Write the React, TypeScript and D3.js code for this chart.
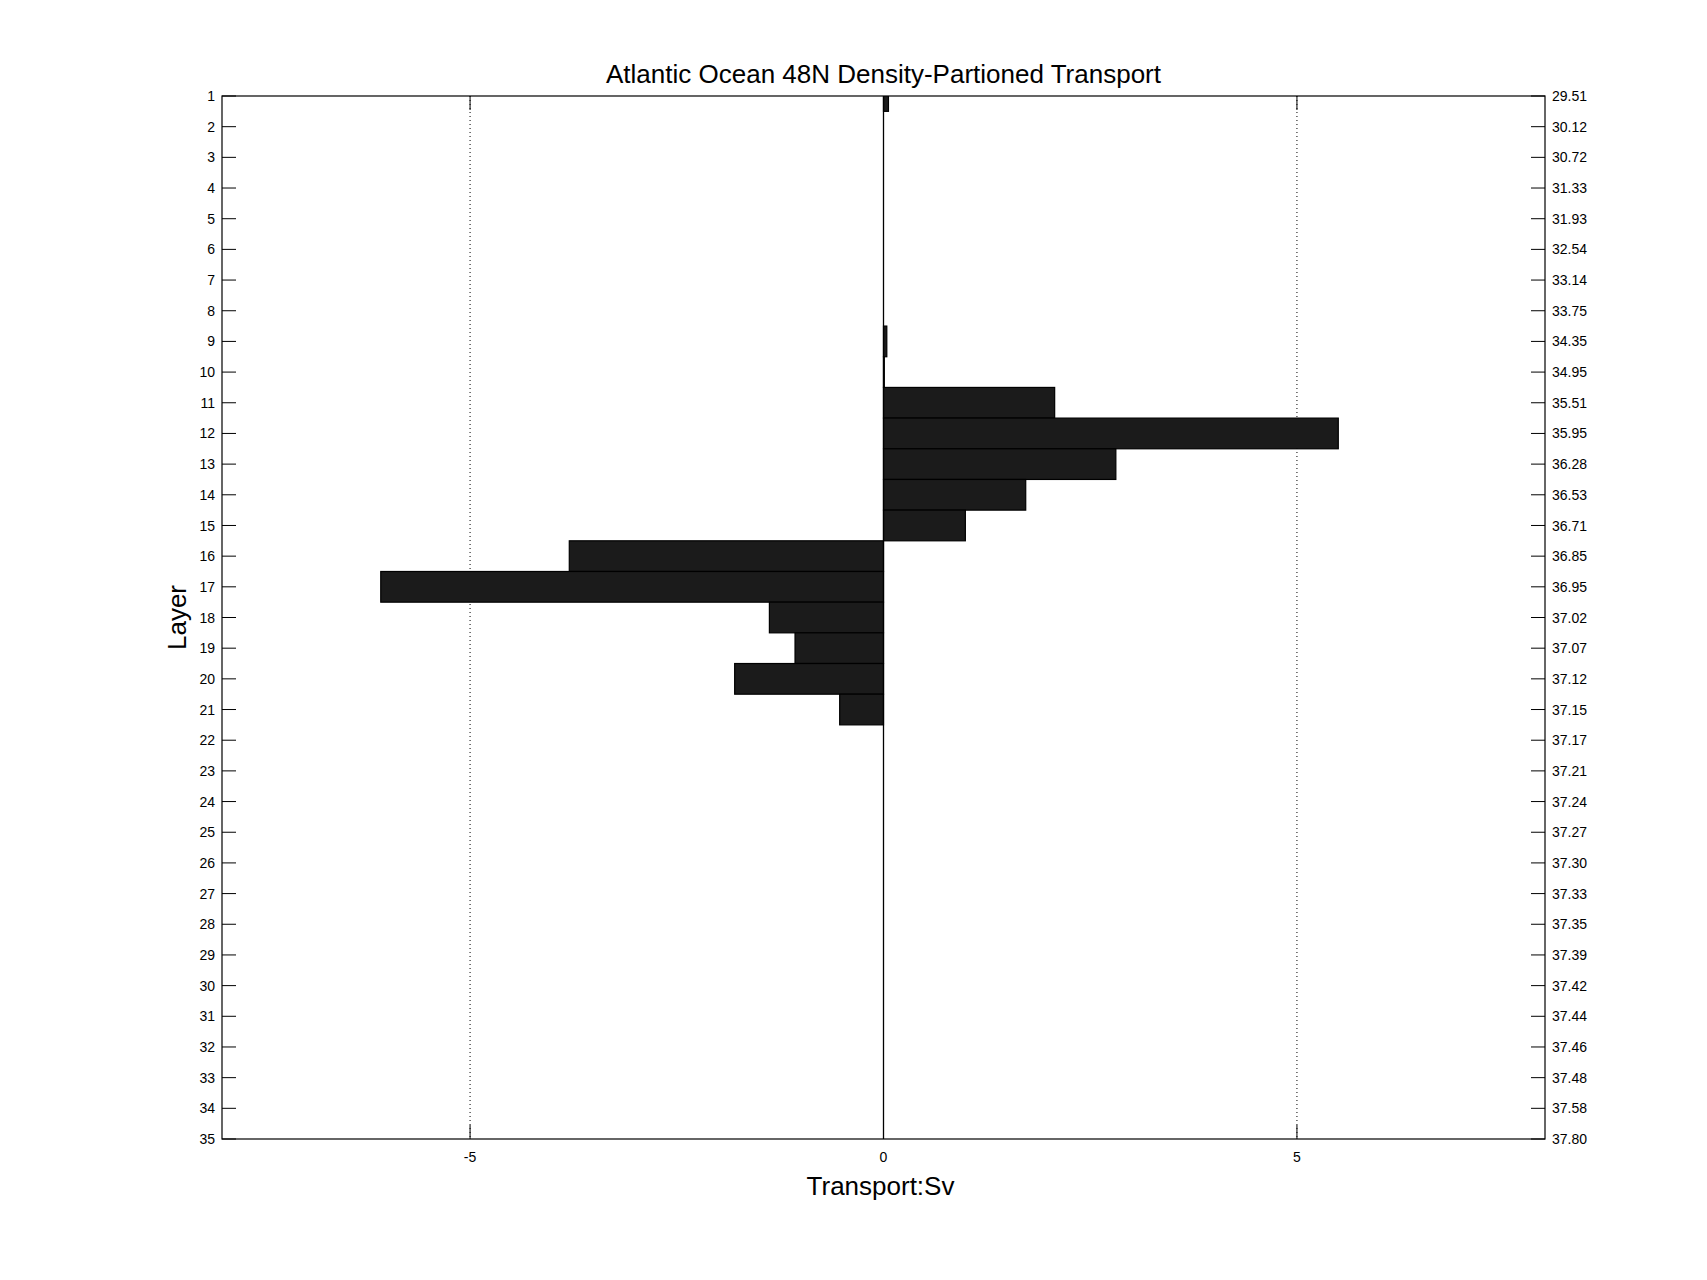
import React from "react";
import * as d3 from "d3";

const layers: number[] = Array.from({ length: 35 }, (_, i) => i + 1);
const transport: number[] = [
  0.06, 0, 0, 0, 0, 0, 0, 0, 0.04, 0.01,
  2.07, 5.5, 2.81, 1.72, 0.99, -3.8, -6.08, -1.38, -1.07, -1.8,
  -0.53, 0, 0, 0, 0, 0, 0, 0, 0, 0,
  0, 0, 0, 0, 0,
];
const densityLabels: string[] = [
  "29.51", "30.12", "30.72", "31.33", "31.93", "32.54", "33.14", "33.75", "34.35", "34.95",
  "35.51", "35.95", "36.28", "36.53", "36.71", "36.85", "36.95", "37.02", "37.07", "37.12",
  "37.15", "37.17", "37.21", "37.24", "37.27", "37.30", "37.33", "37.35", "37.39", "37.42",
  "37.44", "37.46", "37.48", "37.58", "37.80",
];
const xTicks: number[] = [-5, 0, 5];
const title = "Atlantic Ocean 48N Density-Partioned Transport";
const xLabel = "Transport:Sv";
const yLabel = "Layer";

const W = 1707;
const H = 1280;
const L = 222;
const R = 1545;
const T = 96;
const B = 1139;
const FONT = "'Liberation Sans', Arial, Helvetica, sans-serif";

export default function App() {
  const x = d3.scaleLinear().domain([-8, 8]).range([L, R]);
  const y = d3.scaleLinear().domain([1, 35]).range([T, B]);
  const tick = 14;

  return (
    <div style={{ position: "fixed", left: 0, top: 0, width: W, height: H, background: "#fff" }}>
      <svg width={W} height={H} style={{ display: "block" }}>
        <defs>
          <clipPath id="plotclip">
            <rect x={L} y={T} width={R - L} height={B - T} />
          </clipPath>
        </defs>
        <rect x={0} y={0} width={W} height={H} fill="#fff" />
        {/* dotted grid */}
        {xTicks.filter((v) => v !== 0).map((v) => (
          <line key={"g" + v} x1={x(v)} x2={x(v)} y1={T} y2={B} stroke="#000" strokeWidth={1} strokeDasharray="1,3" />
        ))}
        {/* bars */}
        <g clipPath="url(#plotclip)">
          {transport.map((v, i) =>
            v === 0 ? null : (
              <rect
                key={"b" + i}
                x={Math.min(x(0), x(v))}
                y={y(layers[i] - 0.5)}
                width={Math.abs(x(v) - x(0))}
                height={y(layers[i] + 0.5) - y(layers[i] - 0.5)}
                fill="#1b1b1b"
                stroke="#000"
                strokeWidth={1.2}
              />
            )
          )}
        </g>
        {/* zero line */}
        <line x1={x(0)} x2={x(0)} y1={T} y2={B} stroke="#000" strokeWidth={1.3} />
        {/* frame */}
        <rect x={L} y={T} width={R - L} height={B - T} fill="none" stroke="#000" strokeWidth={1.2} />
        {/* y ticks */}
        {layers.map((l, i) => (
          <g key={"yt" + l}>
            <line x1={L} x2={L + tick} y1={y(l)} y2={y(l)} stroke="#000" strokeWidth={1} />
            <line x1={R - tick} x2={R} y1={y(l)} y2={y(l)} stroke="#000" strokeWidth={1} />
            <text x={L - 7} y={y(l)} dy="0.36em" textAnchor="end" fontSize={14} fontFamily={FONT} fill="#000">
              {l}
            </text>
            <text x={R + 7} y={y(l)} dy="0.36em" textAnchor="start" fontSize={14} fontFamily={FONT} fill="#000">
              {densityLabels[i]}
            </text>
          </g>
        ))}
        {/* x ticks */}
        {xTicks.map((v) => (
          <g key={"xt" + v}>
            <line x1={x(v)} x2={x(v)} y1={B} y2={B - tick} stroke="#000" strokeWidth={1} />
            <line x1={x(v)} x2={x(v)} y1={T} y2={T + tick} stroke="#000" strokeWidth={1} />
            <text x={x(v)} y={B + 18} dy="0.36em" textAnchor="middle" fontSize={14} fontFamily={FONT} fill="#000">
              {v}
            </text>
          </g>
        ))}
        <text x={(L + R) / 2} y={83} textAnchor="middle" fontSize={26} fontFamily={FONT} fill="#000">
          {title}
        </text>
        <text x={(L + R) / 2 - 3} y={1195} textAnchor="middle" fontSize={26} fontFamily={FONT} fill="#000">
          {xLabel}
        </text>
        <text
          transform={`translate(186,${(T + B) / 2}) rotate(-90)`}
          textAnchor="middle"
          fontSize={26}
          fontFamily={FONT}
          fill="#000"
        >
          {yLabel}
        </text>
      </svg>
    </div>
  );
}
